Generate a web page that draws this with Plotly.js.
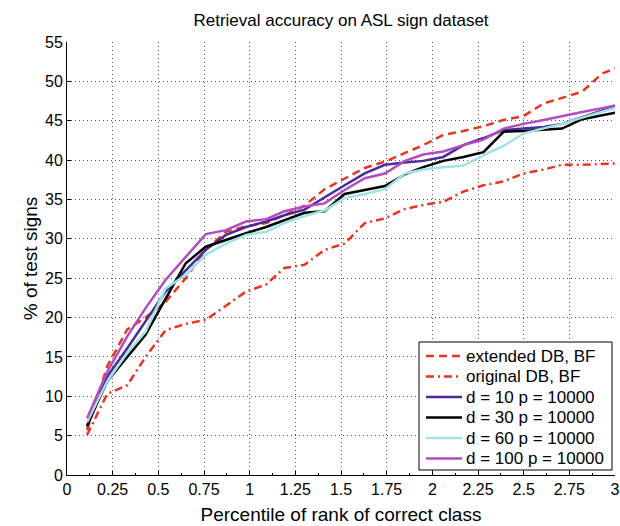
<!DOCTYPE html>
<html>
<head>
<meta charset="utf-8">
<script src="https://cdn.plot.ly/plotly-3.0.1.min.js"></script>
<style>html,body{margin:0;padding:0;background:#fff;}#chart{width:620px;height:526px;}</style>
</head>
<body>
<div id="chart"></div>
<script>
// Percentile of rank of correct class (x positions of samples)
const percentile = [0.11,0.22,0.33,0.43,0.54,0.65,0.76,0.87,0.98,1.09,1.19,1.30,1.41,1.52,1.63,1.74,1.85,1.95,2.06,2.17,2.28,2.39,2.50,2.61,2.71,2.82,2.93,3.04];

// % of test signs
const extendedBF = [5.7,13.8,18.5,20.0,22.0,25.0,28.6,30.9,31.6,32.0,33.0,34.2,36.3,37.7,39.0,39.8,40.9,41.9,43.2,43.7,44.3,45.1,45.6,47.2,47.9,48.7,51.0,52.0];
const originalBF = [5.1,10.3,11.4,15.0,18.4,19.2,19.7,21.5,23.3,24.2,26.3,26.7,28.6,29.4,32.0,32.6,33.8,34.3,34.7,36.0,36.8,37.3,38.3,38.8,39.4,39.4,39.5,39.6];
const d10 = [6.1,12.5,16.1,19.5,23.3,26.0,28.6,30.5,31.5,32.2,33.0,33.7,35.3,36.8,38.3,39.4,39.7,39.9,40.4,41.9,42.8,43.8,44.0,44.2,44.6,45.5,46.3,47.0];
const d30 = [6.3,11.9,15.0,17.8,22.4,26.9,29.0,29.9,30.7,31.5,32.4,33.3,33.5,35.7,36.2,36.7,38.2,39.1,39.9,40.4,41.0,43.6,43.7,43.9,44.0,45.2,45.7,46.2];
const d60 = [6.7,11.9,15.5,18.2,23.7,25.4,28.0,29.4,30.5,30.9,32.0,32.9,33.6,35.2,35.7,36.3,38.3,38.8,39.1,39.3,40.6,41.8,43.4,44.0,44.6,45.4,46.2,46.9];
const d100 = [7.2,13.1,17.6,21.2,24.8,27.7,30.6,31.1,32.2,32.5,33.5,34.1,34.5,36.2,37.7,38.3,39.9,40.7,41.1,41.9,42.6,44.0,44.6,45.1,45.6,46.1,46.6,47.1];

const seriesNames = ['extended DB, BF','original DB, BF','d = 10 p = 10000','d = 30 p = 10000','d = 60 p = 10000','d = 100 p = 10000'];

const xTickVals = [0,0.25,0.5,0.75,1,1.25,1.5,1.75,2,2.25,2.5,2.75,3];
const xTickText = ['0','0.25','0.5','0.75','1','1.25','1.5','1.75','2','2.25','2.5','2.75','3'];
const yTickVals = [0,5,10,15,20,25,30,35,40,45,50,55];
const yTickText = ['0','5','10','15','20','25','30','35','40','45','50','55'];

const RED = '#e8351f';
const styles = [
  {color: RED, dash: '8px,5px'},
  {color: RED, dash: '8px,4px,2px,4px'},
  {color: '#4b2b9c', dash: 'solid'},
  {color: '#000000', dash: 'solid'},
  {color: '#9fe3e3', dash: 'solid'},
  {color: '#b54bc0', dash: 'solid'}
];
const ys = [extendedBF, originalBF, d10, d30, d60, d100];

const traces = ys.map((y, i) => ({
  type: 'scatter', mode: 'lines', x: percentile, y: y, name: seriesNames[i],
  line: {color: styles[i].color, width: 2.5, dash: styles[i].dash}
}));

const FONT = 'Liberation Sans, Arial, sans-serif';

// Legend box drawn in paper coordinates (MATLAB-style compact legend)
const plotL = 67, plotR = 615, plotT = 42, plotB = 475;
const px2x = p => (p - plotL) / (plotR - plotL);
const px2y = p => (plotB - p) / (plotB - plotT);
const legBox = {x0: 419, x1: 612, y0: 342, y1: 470};
const legRow0 = 356, legRowStep = 20.5, legLineX0 = 426, legLineX1 = 462, legTextX = 464;

const shapes = [{
  type: 'rect', xref: 'paper', yref: 'paper',
  x0: px2x(legBox.x0), x1: px2x(legBox.x1), y0: px2y(legBox.y1), y1: px2y(legBox.y0),
  fillcolor: '#fff', line: {color: '#000', width: 1}, layer: 'above'
}];
const annotations = [];
seriesNames.forEach((nm, i) => {
  const py = legRow0 + i * legRowStep;
  shapes.push({
    type: 'line', xref: 'paper', yref: 'paper',
    x0: px2x(legLineX0), x1: px2x(legLineX1), y0: px2y(py), y1: px2y(py),
    line: {color: styles[i].color, width: 2.5, dash: styles[i].dash}, layer: 'above'
  });
  annotations.push({
    xref: 'paper', yref: 'paper', x: px2x(legTextX), y: px2y(py),
    xanchor: 'left', yanchor: 'middle', showarrow: false, text: nm,
    font: {family: FONT, size: 17, color: '#000'}
  });
});

const layout = {
  width: 620, height: 526,
  margin: {l: 67, r: 5, t: 42, b: 51},
  paper_bgcolor: '#fff', plot_bgcolor: '#fff',
  font: {family: FONT, color: '#000', size: 16},
  title: {text: 'Retrieval accuracy on ASL sign dataset', font: {family: FONT, size: 17, color: '#000'}, x: 0.55, xanchor: 'center', y: 0.962, yanchor: 'middle'},
  showlegend: false,
  shapes: shapes,
  annotations: annotations,
  xaxis: {
    range: [0, 3], tickmode: 'array', tickvals: xTickVals, ticktext: xTickText,
    ticks: 'inside', ticklen: 4, tickcolor: '#000', tickwidth: 1,
    showline: true, linecolor: '#000', linewidth: 1, zeroline: false,
    showgrid: true, gridcolor: '#555', griddash: '1px,3px', gridwidth: 1,
    tickfont: {family: FONT, size: 16, color: '#000'},
    minor: {ticks: 'inside', ticklen: 2.5, tickcolor: '#000', tickmode: 'linear', tick0: 0, dtick: 0.125, showgrid: false},
    title: {text: 'Percentile of rank of correct class', font: {family: FONT, size: 19, color: '#000'}, standoff: 10}
  },
  yaxis: {
    range: [0, 55], tickmode: 'array', tickvals: yTickVals, ticktext: yTickText,
    ticks: 'inside', ticklen: 4, tickcolor: '#000', tickwidth: 1,
    showline: true, linecolor: '#000', linewidth: 1, zeroline: false,
    showgrid: true, gridcolor: '#555', griddash: '1px,3px', gridwidth: 1,
    tickfont: {family: FONT, size: 16, color: '#000'},
    title: {text: '% of test signs', font: {family: FONT, size: 19, color: '#000'}, standoff: 2}
  }
};

Plotly.newPlot('chart', traces, layout, {displayModeBar: false, staticPlot: true});
</script>
</body>
</html>
